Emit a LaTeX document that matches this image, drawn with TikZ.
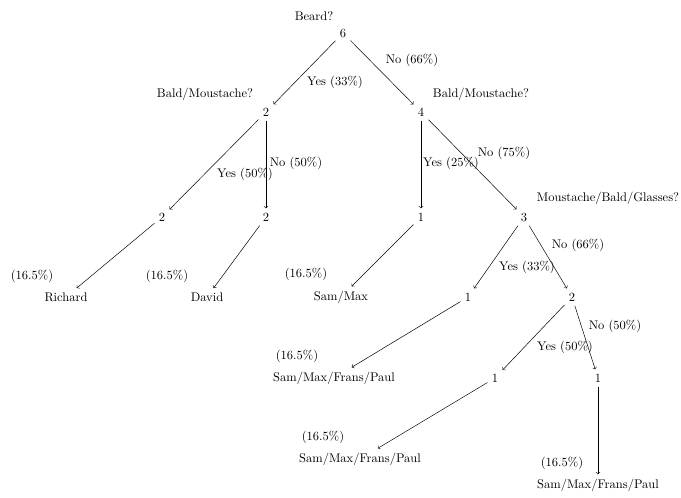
\documentclass[tikz,border=0pt]{standalone}
\begin{document}
\begin{tikzpicture}[line width=0.4pt, x=0.8pt, y=-0.8pt, >=to]
  \useasboundingbox (0,0) rectangle (681,497);
  % counts
  \node (root) at (343,33) {6};
  \node (a) at (266,112) {2};
  \node (b) at (421,112) {4};
  \node (aa) at (162,217) {2};
  \node (ab) at (266,217) {2};
  \node (ba) at (421,217) {1};
  \node (bb) at (524,217) {3};
  \node (bba) at (468,297) {1};
  \node (bbb) at (572,297) {2};
  \node (bbba) at (495,378) {1};
  \node (bbbb) at (598,378) {1};
  % leaves
  \node (richard) at (66,297) {Richard};
  \node (david) at (207,297) {David};
  \node (sammax) at (341,297) {Sam/Max};
  \node (smfpA) at (334,378) {Sam/Max/Frans/Paul};
  \node (smfpB) at (360,459) {Sam/Max/Frans/Paul};
  \node (smfpC) at (598,485) {Sam/Max/Frans/Paul};
  % questions
  \node (qroot) at (314,16) {Beard?};
  \node (qa) at (205,94) {Bald/Moustache?};
  \node (qb) at (481,94) {Bald/Moustache?};
  \node (qbb) at (608,198) {Moustache/Bald/Glasses?};
  % shares
  \node (prichard) at (32,276) {(16.5\%)};
  \node (pdavid) at (167,276) {(16.5\%)};
  \node (psammax) at (306,274) {(16.5\%)};
  \node (psmfpA) at (297,356) {(16.5\%)};
  \node (psmfpB) at (323,437) {(16.5\%)};
  \node (psmfpC) at (562,463) {(16.5\%)};
  % branches
  \draw[->] (root) -- (a);
  \draw[->] (root) -- (b);
  \draw[->] (a) -- (aa);
  \draw[->] (a) -- (ab);
  \draw[->] (b) -- (ba);
  \draw[->] (b) -- (bb);
  \draw[->] (aa) -- (richard);
  \draw[->] (ab) -- (david);
  \draw[->] (ba) -- (sammax);
  \draw[->] (bb) -- (bba);
  \draw[->] (bb) -- (bbb);
  \draw[->] (bba) -- (smfpA);
  \draw[->] (bbb) -- (bbba);
  \draw[->] (bbb) -- (bbbb);
  \draw[->] (bbba) -- (smfpB);
  \draw[->] (bbbb) -- (smfpC);
  % answers
  \node (yroot) at (335,82) {Yes (33\%)};
  \node (nroot) at (412,60) {No (66\%)};
  \node (ya) at (245,174) {Yes (50\%)};
  \node (na) at (296,163) {No (50\%)};
  \node (yb) at (451,163) {Yes (25\%)};
  \node (nb) at (504,153) {No (75\%)};
  \node (ybb) at (527,267) {Yes (33\%)};
  \node (nbb) at (578,245) {No (66\%)};
  \node (ybbb) at (565,347) {Yes (50\%)};
  \node (nbbb) at (615,326) {No (50\%)};
\end{tikzpicture}
\end{document}
